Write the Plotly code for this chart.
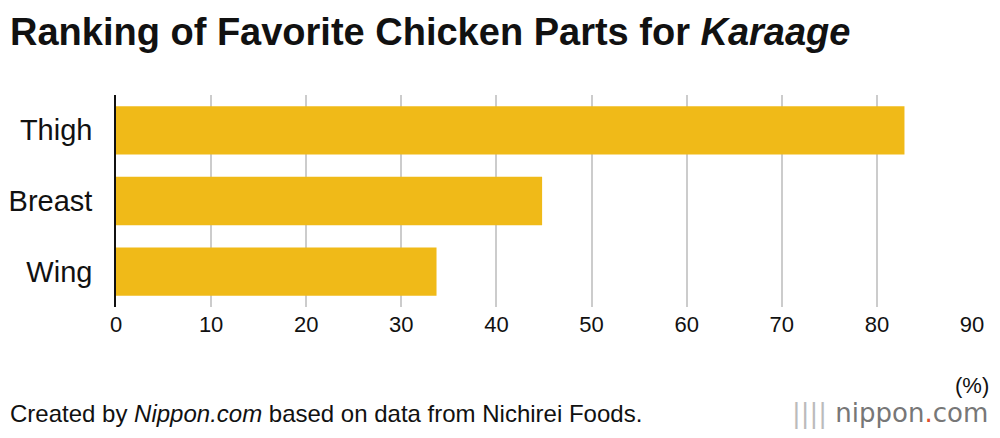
import plotly.graph_objects as go

parts = ["Thigh", "Breast", "Wing"]
shares = [82.9, 44.8, 33.7]
tick_vals = [0, 10, 20, 30, 40, 50, 60, 70, 80, 90]

fig = go.Figure()
fig.add_trace(go.Bar(
    x=shares, y=parts, orientation="h",
    marker=dict(color="#F0BA18", line=dict(width=0)),
    width=0.685, hoverinfo="skip",
))

# page body has an 8px margin, so the figure is smaller than the window
pw, ph = 856, 212
fig.update_layout(
    width=984, height=422,
    margin=dict(l=108, r=984 - 108 - pw, t=87, b=123, autoexpand=False),
    paper_bgcolor="white", plot_bgcolor="white",
    font=dict(family="Liberation Sans, Arial, sans-serif", color="#111", size=24),
    showlegend=False,
    xaxis=dict(range=[0, 90], tickvals=tick_vals, showgrid=True,
               gridcolor="#cccccc", gridwidth=1.5, zeroline=False,
               ticks="", tickfont=dict(size=22), ticklabelstandoff=2,
               automargin=False),
    yaxis=dict(autorange="reversed", showline=True, linecolor="#111",
               linewidth=1.5, ticks="", ticklabelstandoff=16,
               tickfont=dict(size=29), automargin=False),
)

fig.add_annotation(text="<b>Ranking of Favorite Chicken Parts for <i>Karaage</i></b>",
                   xref="paper", yref="paper", x=-108 / pw, y=1 + 63 / ph,
                   xanchor="left", yanchor="middle", showarrow=False,
                   font=dict(size=38))
fig.add_annotation(text="(%)", xref="paper", yref="paper", x=1.0, y=-78 / ph,
                   xanchor="center", yanchor="middle",
                   showarrow=False, font=dict(size=22))
fig.add_annotation(text="Created by <i>Nippon.com</i> based on data from Nichirei Foods.",
                   xref="paper", yref="paper", x=-108 / pw, y=-106 / ph,
                   xanchor="left", yanchor="middle", showarrow=False,
                   font=dict(size=24))
fig.add_annotation(text="<span style='color:#bbb'>|||| </span><span style='color:#777'>nippon</span><span style='color:#e0502a'>.</span><span style='color:#777'>com</span>",
                   xref="paper", yref="paper", x=1 + 18 / pw, y=-106 / ph,
                   xanchor="right", yanchor="middle", showarrow=False,
                   font=dict(size=26, family="DejaVu Sans"))

fig.write_html("out.html")
